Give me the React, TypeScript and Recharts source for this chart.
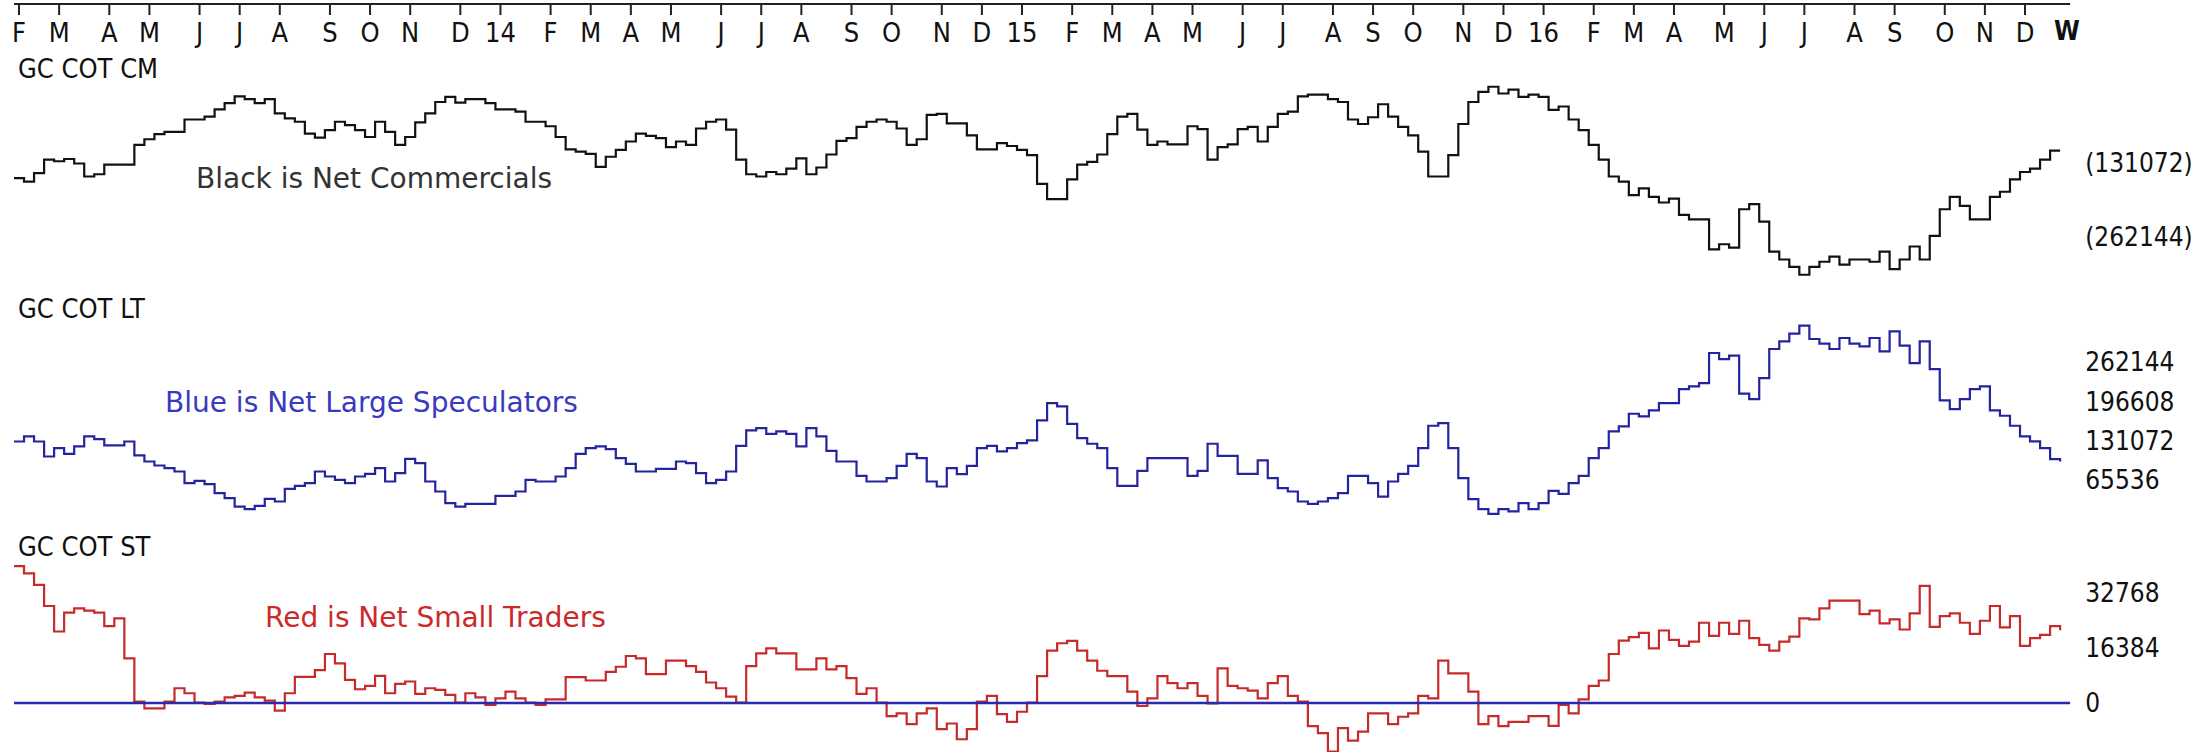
import { LineChart, Line, XAxis, YAxis, ReferenceLine } from 'recharts';

const START_DATE = Date.UTC(2013, 1, 1); // Fri 1 Feb 2013, first weekly bar
const DAY_MS = 86400000;

const MONTH_LETTERS = ['J', 'F', 'M', 'A', 'M', 'J', 'J', 'A', 'S', 'O', 'N', 'D'];

// weekly net positions, thousands of contracts
const cmNetK = [
  -158, -164, -149, -125, -128, -124, -132, -155, -151, -134,
  -134, -134, -99, -89, -80, -76, -76, -54, -54, -49,
  -36, -25, -13, -18, -25, -18, -43, -52, -58, -79,
  -86, -73, -58, -64, -73, -85, -58, -76, -99, -85,
  -59, -43, -23, -14, -24, -18, -18, -25, -36, -36,
  -40, -58, -58, -66, -85, -107, -111, -115, -138, -120,
  -108, -93, -79, -83, -87, -103, -93, -99, -70, -58,
  -54, -72, -125, -151, -155, -147, -151, -141, -123, -151,
  -139, -116, -92, -87, -67, -58, -54, -58, -70, -99,
  -89, -46, -44, -61, -61, -82, -107, -107,
  -96, -101, -108, -117, -168, -195, -195, -160, -134, -129,
  -116, -80, -49, -44, -72, -99, -93, -98, -98, -66,
  -71, -125, -103, -98, -71, -67, -93, -67, -44, -40,
  -13, -10, -10, -18, -23, -54, -62, -50, -27, -49,
  -67, -82, -111, -155, -155, -117, -62, -23, -5, 4,
  -8, -1, -14, -10, -14, -37, -31, -54, -73, -99,
  -125, -155, -164, -188, -176, -191, -201, -194, -223, -231,
  -231, -284, -275, -281, -213, -204, -235, -288, -302, -315,
  -329, -315, -306, -297, -311, -302, -302, -306, -288, -319,
  -302, -279, -302, -260, -213, -191, -207, -231, -231, -191,
  -182, -160, -147, -141, -125, -109, -109,
];

const ltNetK = [
  129.7, 138.1, 129.7, 104.7, 118.6, 109.2, 121.4, 138.1, 133.6, 123.1,
  123.1, 129.7, 106.4, 96.4, 89.7, 85.3, 79.7, 60.3, 64.1, 58.6,
  43.6, 35.2, 21.3, 16.9, 22.5, 34.1, 29.7, 50.8, 55.8, 60.3,
  79.7, 71.4, 65.8, 60.3, 71.4, 75.8, 85.3, 63.0, 77.0, 100.8,
  93.6, 63.0, 46.4, 26.9, 21.3, 25.8, 25.8, 25.8, 39.1, 39.1,
  46.4, 65.8, 63.0, 63.0, 71.4, 85.3, 109.2, 118.6, 121.4, 117.0,
  102.0, 92.5, 79.7, 79.7, 84.2, 84.2, 96.4, 93.6, 77.0, 60.3,
  65.8, 79.7,
  122.5, 148.1, 152.0, 142.5, 146.4, 142.5, 121.4, 152.0, 138.1, 114.2,
  96.4, 96.4, 72.5, 63.0, 63.0, 68.6, 89.2, 109.2, 101.9, 63.0,
  54.7, 85.3, 75.3, 89.2, 118.6, 122.5, 113.1, 118.6, 127.0, 131.4,
  164.8, 193.7, 188.1, 159.2, 135.3, 125.9, 118.6, 85.3, 55.8, 55.8,
  80.8, 101.9, 101.9, 101.9, 101.9, 72.5, 80.8, 125.9, 105.8, 105.8,
  75.8, 75.8, 98.1, 68.6, 51.9, 46.4, 29.7, 25.8, 29.7, 35.2,
  43.6, 72.5, 72.5, 60.3, 38.0, 63.0, 75.8, 89.2, 118.6, 155.9,
  160.3, 118.6, 68.6, 33.6, 16.9, 9.1,
  17.0, 13.1, 27.0, 17.0, 27.0, 47.5, 42.5, 60.3, 72.5, 102.0,
  118.7, 146.5, 154.8, 175.9, 171.5, 181.5, 193.7, 193.7, 217.1, 221.5,
  227.1, 277.1, 267.1, 272.7, 209.3, 200.4, 235.4, 283.8, 296.6, 309.4,
  322.7, 300.5, 292.7, 283.8, 302.1, 292.7, 288.2, 302.1, 279.9, 313.2,
  289.3, 260.4, 296.6, 250.4, 198.2, 183.7, 200.4, 217.1, 221.5, 181.5,
  172.6, 155.9, 138.1, 129.8, 118.7, 100.3, 96.4,
];

const stNetK = [
  40.8, 38.6, 35.2, 28.9, 21.3, 26.9, 28.2, 27.5, 26.9, 22.9,
  25.2, 13.3, 0.4, -1.6, -1.6, 0.4, 4.4, 2.9, 0.1, -0.3,
  0.4, 1.7, 2.1, 3.1, 1.7, 0.7, -2.3, 2.9, 7.8, 7.8,
  9.8, 14.6, 11.8, 6.9, 4.1, 5.1, 8.1, 2.9, 5.7, 6.4,
  2.7, 4.4, 3.9, 2.4, 0.1, 2.9, 1.7, -0.6, 1.4, 3.4,
  1.4, 0.1, -0.6, 1.1, 1.1, 7.7, 7.7, 6.7, 6.7, 9.3,
  10.8, 14.0, 13.3, 8.6, 8.6, 12.6, 12.6, 11.0, 9.3, 6.1,
  4.4, 1.9, 0.1,
  11.0, 14.8, 16.3, 14.8, 14.8, 10.0, 10.0, 13.3, 10.0, 11.0,
  7.4, 2.7, 4.4, 0.1, -3.9, -3.1, -6.3, -3.1, -1.6, -7.8,
  -6.1, -10.8, -7.8, 0.4, 2.1, -3.3, -5.6, -2.6, 0.1, 8.0,
  15.6, 17.8, 18.5, 15.6, 12.6, 9.6, 8.0, 8.0, 3.4, -0.9,
  1.4, 8.0, 5.9, 4.4, 5.9, 2.1, -0.1, 10.3, 5.1, 4.4,
  3.7, 1.4, 5.9, 8.0, 2.1, 0.4, -6.9, -9.0, -14.5, -7.5,
  -11.2, -8.5, -3.1, -3.1, -6.3, -4.1, -3.1, 2.1, 1.4, 12.6,
  8.8, 8.8, 3.4, -6.3, -3.9, -6.9,
  -5.6, -5.6, -3.9, -3.9, -6.8, -0.6, -3.1, 1.1, 5.1, 6.7,
  14.6, 18.6, 19.6, 20.9, 16.3, 21.6, 18.8, 17.0, 18.3, 23.9,
  20.0, 23.9, 20.6, 24.5, 19.3, 17.3, 15.6, 18.3, 19.8, 25.2,
  24.9, 28.2, 30.5, 30.5, 30.5, 26.5, 27.5, 23.7, 24.9, 21.9,
  26.7, 34.9, 22.7, 25.9, 26.7, 23.9, 20.6, 24.5, 28.9, 22.5,
  25.9, 17.0, 19.3, 20.3, 22.9, 21.7,
];

const CM_TICKS = [-131072, -262144];
const LT_TICKS = [262144, 196608, 131072, 65536];
const ST_TICKS = [32768, 16384, 0];

const WIDTH = 2194;
const HEIGHT = 752;
const PLOT_LEFT = 14;
const PLOT_TOP = 4; // the mirrored top axis sits on the plot and takes no room
const X_AXIS_H = 40;
const WEEK_PX = 10.03;
const X_MAX = 205;
const PLOT_RIGHT = PLOT_LEFT + X_MAX * WEEK_PX;
const Y_AXIS_W = 1;

const COND = "'DejaVu Sans Condensed', 'DejaVu Sans', sans-serif";
const NARROW = "'Liberation Sans Narrow', 'DejaVu Sans Condensed', sans-serif";
const PLAIN = "'DejaVu Sans', Verdana, sans-serif";

// all three panels share one plot; each y axis gets a domain that puts its series in its own band
function bandDomain(vA: number, yA: number, vB: number, yB: number): [number, number] {
  const perPx = (vA - vB) / (yB - yA);
  return [vA - (HEIGHT - yA) * perPx, vA + (yA - PLOT_TOP) * perPx];
}
const cmDomain = bandDomain(-131072, 163, -262144, 237);
const ltDomain = bandDomain(262144, 362, 65536, 480);
const stDomain = bandDomain(32768, 593, 0, 703);

const rows = cmNetK.map((v, i) => ({
  week: i,
  cm: v * 1000,
  lt: ltNetK[i] * 1000,
  st: stNetK[i] * 1000,
}));

// one tick at the first weekly bar of each month
const monthTicks: number[] = [];
const tickLabels: Record<string, string> = {};
let prevMonth = -1;
rows.forEach((r) => {
  const d = new Date(START_DATE + r.week * 7 * DAY_MS);
  const m = d.getUTCMonth();
  if (m !== prevMonth) {
    const pos = r.week + 0.5;
    monthTicks.push(pos);
    tickLabels[pos] = m === 0 ? String(d.getUTCFullYear() % 100) : MONTH_LETTERS[m];
    prevMonth = m;
  }
});

const rightTick = { fill: '#111', fontSize: 26, fontFamily: COND };

export default function App() {
  return (
    <div style={{ position: 'relative', width: WIDTH, height: HEIGHT, background: '#fff' }}>
      <style>{'body { margin: 0; }'}</style>
      <LineChart
        width={WIDTH}
        height={HEIGHT}
        data={rows}
        margin={{
          top: PLOT_TOP,
          right: WIDTH - PLOT_RIGHT - 3 * Y_AXIS_W,
          bottom: 0,
          left: PLOT_LEFT,
        }}
      >
        <XAxis
          dataKey="week"
          type="number"
          domain={[0, X_MAX]}
          allowDataOverflow
          orientation="top"
          mirror
          height={X_AXIS_H}
          ticks={monthTicks}
          interval={0}
          tickFormatter={(v) => tickLabels[v] ?? ''}
          tickSize={11}
          tickMargin={8}
          axisLine={{ stroke: '#222', strokeWidth: 2 }}
          tickLine={{ stroke: '#222', strokeWidth: 2 }}
          tick={{ fill: '#111', fontSize: 27, fontFamily: NARROW }}
        />
        <YAxis
          yAxisId="cm"
          orientation="right"
          width={Y_AXIS_W}
          domain={cmDomain}
          allowDataOverflow
          ticks={CM_TICKS}
          interval={0}
          tickFormatter={(v) => `(${Math.abs(v)})`}
          axisLine={false}
          tickLine={false}
          tickSize={0}
          tickMargin={15}
          tick={rightTick}
        />
        <YAxis
          yAxisId="lt"
          orientation="right"
          width={Y_AXIS_W}
          domain={ltDomain}
          allowDataOverflow
          ticks={LT_TICKS}
          interval={0}
          axisLine={false}
          tickLine={false}
          tickSize={0}
          tickMargin={14}
          tick={rightTick}
        />
        <YAxis
          yAxisId="st"
          orientation="right"
          width={Y_AXIS_W}
          domain={stDomain}
          allowDataOverflow
          ticks={ST_TICKS}
          interval={0}
          axisLine={false}
          tickLine={false}
          tickSize={0}
          tickMargin={13}
          tick={rightTick}
        />
        <Line yAxisId="cm" dataKey="cm" type="stepAfter" stroke="#111" strokeWidth={2.2} dot={false} isAnimationActive={false} />
        <Line yAxisId="lt" dataKey="lt" type="stepAfter" stroke="#24249e" strokeWidth={2.2} dot={false} isAnimationActive={false} />
        <Line yAxisId="st" dataKey="st" type="stepAfter" stroke="#c62a2a" strokeWidth={2.2} dot={false} isAnimationActive={false} />
        <ReferenceLine yAxisId="st" y={0} stroke="#2a2aae" strokeWidth={2.5} />
      </LineChart>

      <svg
        width={WIDTH}
        height={HEIGHT}
        style={{ position: 'absolute', left: 0, top: 0, pointerEvents: 'none' }}
      >
        <g fontFamily={COND} fontSize={27} fill="#111">
          <text x={18} y={78}>GC COT CM</text>
          <text x={18} y={318}>GC COT LT</text>
          <text x={18} y={556}>GC COT ST</text>
        </g>
        <g fontFamily={PLAIN} fontSize={28}>
          <text x={196} y={188} fill="#333">Black is Net Commercials</text>
          <text x={165} y={412} fill="#3a3ac0">Blue is Net Large Speculators</text>
          <text x={265} y={627} fill="#cc2a2a">Red is Net Small Traders</text>
        </g>
        <text x={2054} y={40} fontFamily={COND} fontSize={26} fontWeight="bold" fill="#111">W</text>
      </svg>
    </div>
  );
}
